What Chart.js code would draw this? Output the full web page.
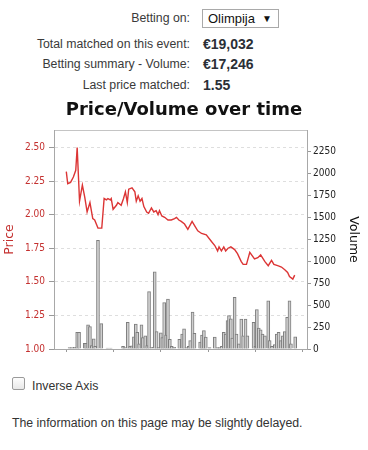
<!DOCTYPE html>
<html>
<head>
<meta charset="utf-8">
<script src="https://cdn.jsdelivr.net/npm/chart.js@4/dist/chart.umd.min.js"></script>
<style>
  html, body { margin: 0; padding: 0; background: #fff; width: 368px; height: 450px; overflow: hidden; }
  body { position: relative; font-family: "Liberation Sans", Arial, sans-serif; font-size: 12.3px; color: #333; }
  .row { position: absolute; left: 0; width: 368px; height: 20px; line-height: 20px; }
  .lbl { position: absolute; right: 178px; text-align: right; white-space: nowrap; color: #3a3a3a; }
  .val { position: absolute; left: 203px; font-weight: bold; font-size: 14px; color: #2b2f36; white-space: nowrap; }
  .sel { position: absolute; left: 202px; top: 9px; width: 75px; height: 17px; border: 1px solid #a9a9a9; background: #fff; line-height: 17px; }
  .sel span.t { position: absolute; left: 5px; font-size: 13px; color: #111; }
  .sel span.a { position: absolute; right: 6px; font-size: 10px; color: #111; }
  #wrap { position: absolute; left: 0; top: 95px; width: 368px; height: 265px; }
  .cb { position: absolute; left: 12px; top: 377px; width: 11px; height: 11px; border: 1px solid #9a9a9a; border-radius: 2px; background: linear-gradient(#fdfdfd, #e8e8e8); }
  .cbl { position: absolute; left: 32px; top: 378px; line-height: 16px; color: #333; }
  .note { position: absolute; left: 12px; top: 415px; line-height: 16px; color: #333; }
</style>
</head>
<body>
<div class="row" style="top:8px"><span class="lbl">Betting on:</span></div>
<div class="sel"><span class="t">Olimpija</span><span class="a">&#9660;</span></div>
<div class="row" style="top:34px"><span class="lbl">Total matched on this event:</span><span class="val">€19,032</span></div>
<div class="row" style="top:54px"><span class="lbl">Betting summary - Volume:</span><span class="val">€17,246</span></div>
<div class="row" style="top:75px"><span class="lbl">Last price matched:</span><span class="val">1.55</span></div>

<div id="wrap"><canvas id="c" width="368" height="265"></canvas></div>

<div class="cb"></div>
<div class="cbl">Inverse Axis</div>
<div class="note">The information on this page may be slightly delayed.</div>

<script>
// time axis in days (ticks at whole days, unlabeled)
const priceTimes = [0.00,0.03,0.09,0.15,0.20,0.23,0.28,0.34,0.39,0.44,0.50,0.56,0.60,0.67,0.75,0.80,0.85,0.88,0.93,0.95,0.99,1.06,1.09,1.16,1.21,1.25,1.29,1.32,1.39,1.45,1.48,1.52,1.56,1.60,1.64,1.70,1.74,1.80,1.85,1.90,1.94,1.97,2.02,2.08,2.15,2.22,2.29,2.33,2.38,2.43,2.50,2.57,2.66,2.71,2.78,2.86,2.96,3.07,3.14,3.20,3.23,3.28,3.33,3.37,3.42,3.48,3.56,3.62,3.70,3.74,3.81,3.88,3.98,4.05,4.11,4.20,4.27,4.34,4.39,4.47,4.55,4.62,4.68,4.72,4.79,4.83];
const prices = [2.32,2.23,2.24,2.28,2.33,2.50,2.10,2.22,2.13,2.02,2.09,1.97,1.96,1.90,1.90,2.12,2.11,2.12,2.11,2.12,2.04,2.07,2.09,2.07,2.12,2.17,2.09,2.19,2.20,2.17,2.10,2.14,2.10,2.12,2.06,2.02,2.01,2.05,2.02,2.03,2.00,2.03,1.99,1.98,1.96,1.96,1.97,1.98,1.96,1.95,1.93,1.89,1.95,1.92,1.88,1.86,1.85,1.80,1.77,1.73,1.76,1.73,1.76,1.73,1.75,1.76,1.74,1.71,1.65,1.63,1.63,1.72,1.67,1.68,1.70,1.65,1.62,1.66,1.63,1.62,1.61,1.59,1.57,1.54,1.52,1.55];
const volumeTimes = [0.07,0.12,0.18,0.23,0.27,0.39,0.42,0.46,0.50,0.54,0.58,0.61,0.67,0.74,0.87,0.94,1.20,1.23,1.30,1.35,1.39,1.43,1.47,1.50,1.54,1.59,1.62,1.67,1.71,1.75,1.80,1.87,1.91,1.95,2.00,2.03,2.07,2.11,2.15,2.19,2.23,2.28,2.39,2.45,2.49,2.54,2.59,2.62,2.67,2.71,2.83,2.87,2.91,2.95,3.03,3.14,3.20,3.24,3.29,3.33,3.37,3.41,3.44,3.48,3.51,3.56,3.60,3.65,3.70,3.74,3.79,3.83,3.96,4.00,4.03,4.07,4.11,4.15,4.20,4.27,4.30,4.35,4.41,4.45,4.49,4.54,4.58,4.62,4.67,4.72,4.75,4.84];
const volumes = [15,15,20,190,190,65,65,275,255,40,115,30,1240,290,10,10,30,15,305,30,35,140,285,190,60,275,130,150,40,655,20,880,200,20,185,130,530,160,570,110,30,20,110,170,230,15,30,95,420,180,80,160,210,135,15,135,15,15,30,190,170,325,380,345,125,590,170,60,340,150,340,150,305,30,450,240,220,170,150,550,95,30,50,170,190,95,150,200,360,550,60,140];
const priceTicks = [1.00,1.25,1.50,1.75,2.00,2.25,2.50];
const volumeTicks = [0,250,500,750,1000,1250,1500,1750,2000,2250];

const priceData = priceTimes.map((t, i) => ({x: t, y: prices[i]}));
const volumeData = volumeTimes.map((t, i) => ({x: t, y: volumes[i]}));

const RED = '#c4302f';
const AXIS = '#a8a8a8';

new Chart(document.getElementById('c'), {
  type: 'bar',
  data: {
    datasets: [
      {
        type: 'line', label: 'Price', data: priceData, yAxisID: 'y', xAxisID: 'x',
        borderColor: '#dc3535', borderWidth: 1.4, pointRadius: 0, tension: 0, order: 0
      },
      {
        type: 'bar', label: 'Volume', data: volumeData, yAxisID: 'y1', xAxisID: 'x',
        backgroundColor: '#cfcfcf', borderColor: '#7d7d7d', borderWidth: 1,
        barThickness: 3, order: 1, borderSkipped: 'bottom'
      }
    ]
  },
  options: {
    responsive: false,
    animation: false,
    events: [],
    layout: { padding: 0 },
    plugins: {
      legend: { display: false },
      tooltip: { enabled: false },
      title: {
        display: true, text: 'Price/Volume over time', color: '#111',
        font: { family: 'DejaVu Sans', size: 18, weight: 'bold', lineHeight: 1.2 },
        padding: { top: 5, bottom: 8.4 }
      }
    },
    scales: {
      x: {
        type: 'linear', position: 'bottom', min: -0.26, max: 5.09, offset: false,
        ticks: { display: false, stepSize: 1, includeBounds: false },
        grid: { display: true, drawOnChartArea: false, offset: false, tickLength: 3, tickColor: '#999' },
        border: { display: true, color: AXIS, width: 1 },
        afterFit: s => { s.height = 11; }
      },
      xTop: {
        type: 'linear', position: 'top', min: 0, max: 1,
        ticks: { display: false },
        grid: { display: false, drawTicks: false },
        border: { display: true, color: '#c4c4c4', width: 1 },
        afterFit: s => { s.height = 0; }
      },
      y: {
        type: 'linear', position: 'left', min: 1.0, max: 2.63,
        afterBuildTicks: s => { s.ticks = priceTicks.map(v => ({value: v})); },
        ticks: { color: RED, padding: 4, font: { family: 'DejaVu Sans Condensed', size: 10 },
                 callback: v => Number(v).toFixed(2) },
        grid: { color: '#dedede', tickColor: '#999', tickLength: 5, tickBorderDash: [] },
        border: { display: true, color: AXIS, width: 1, dash: [3, 3] },
        title: { display: true, text: 'Price', color: RED,
                 font: { family: 'DejaVu Sans', size: 12.5 }, padding: { top: 2, bottom: 0 } },
        afterFit: s => { s.width = 54; }
      },
      y1: {
        type: 'linear', position: 'right', min: 0, max: 2499,
        afterBuildTicks: s => { s.ticks = volumeTicks.map(v => ({value: v})); },
        ticks: { color: '#222', padding: 2, font: { family: 'DejaVu Sans Condensed', size: 10 },
                 callback: v => String(v) },
        grid: { drawOnChartArea: false, tickColor: '#999', tickLength: 4 },
        border: { display: true, color: AXIS, width: 1 },
        title: { display: true, text: 'Volume', color: '#111',
                 font: { family: 'DejaVu Sans', size: 12.5 }, padding: { top: 7, bottom: 0 } },
        afterFit: s => { s.width = 61; }
      }
    }
  }
});
</script>
</body>
</html>
